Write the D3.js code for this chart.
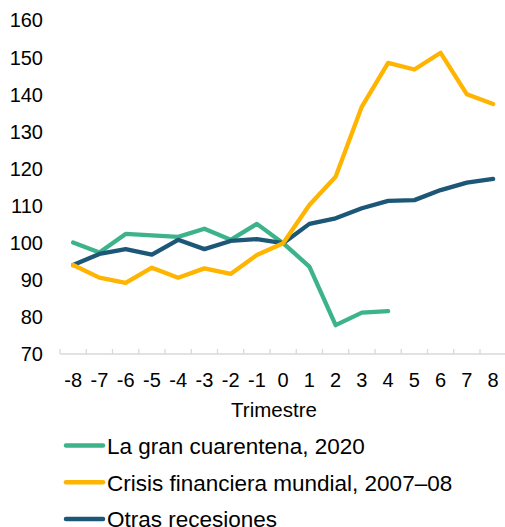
<!DOCTYPE html>
<html>
<head>
<meta charset="utf-8">
<script src="https://cdn.jsdelivr.net/npm/d3@7"></script>
<style>
  html, body { margin: 0; padding: 0; background: #fff; }
  svg { display: block; font-family: "Liberation Sans", Arial, sans-serif; }
</style>
</head>
<body>
<svg id="chart" width="505" height="527"></svg>
<script>
const quarters = ["-8","-7","-6","-5","-4","-3","-2","-1","0","1","2","3","4","5","6","7","8"];
const yTicks = [70, 80, 90, 100, 110, 120, 130, 140, 150, 160];
const seriesNames = ["La gran cuarentena, 2020", "Crisis financiera mundial, 2007\u201308", "Otras recesiones"];
const granCuarentena = [100.2, 97.5, 102.5, 102.1, 101.7, 103.9, 100.9, 105.2, 100, 93.7, 77.9, 81.3, 81.7, null, null, null, null];
const crisisFinanciera = [94.1, 90.7, 89.3, 93.4, 90.7, 93.2, 91.7, 96.8, 100, 110.3, 117.9, 136.8, 148.6, 146.8, 151.3, 140.1, 137.5];
const otrasRecesiones = [94.1, 97.1, 98.4, 96.9, 100.9, 98.4, 100.6, 101.1, 100, 105.2, 106.7, 109.4, 111.4, 111.6, 114.3, 116.3, 117.3];
const axisTitle = "Trimestre";

const colors = ["#3db38c", "#ffb400", "#1d5777"];
const seriesValues = [granCuarentena, crisisFinanciera, otrasRecesiones];

const svg = d3.select("#chart");
const x = d3.scaleBand().domain(quarters).range([60, 506.25]).padding(0);
const y = d3.scaleLinear().domain([70, 160]).range([354.5, 20.5]);

// Y axis labels
const yAxis = svg.append("g").attr("transform", "translate(60,0)")
  .call(d3.axisLeft(y).tickValues(yTicks).tickSize(0).tickPadding(17).tickFormat(d3.format("d")));
yAxis.select(".domain").remove();
yAxis.selectAll("text").attr("font-size", "20px").attr("fill", "#000")
  .attr("font-family", "'Liberation Sans', Arial, sans-serif");

// X axis baseline
const axisY = 354;
svg.append("line").attr("x1", 60).attr("x2", 505).attr("y1", axisY).attr("y2", axisY)
  .attr("stroke", "#d9d9d9").attr("stroke-width", 1.3);
// tick marks at category boundaries
const boundaries = quarters.map(q => x(q)).concat([x.range()[1]]);
svg.append("g").selectAll("line").data(boundaries).join("line")
  .attr("x1", d => d).attr("x2", d => d)
  .attr("y1", axisY).attr("y2", axisY - 5)
  .attr("stroke", "#d9d9d9").attr("stroke-width", 1.3);

const xAxis = svg.append("g").attr("transform", `translate(0,${axisY})`)
  .call(d3.axisBottom(x).tickSize(0).tickPadding(0));
xAxis.select(".domain").remove();
xAxis.selectAll("text").attr("font-size", "20px").attr("fill", "#000")
  .attr("font-family", "'Liberation Sans', Arial, sans-serif")
  .attr("y", 33).attr("dy", 0);

svg.append("text").attr("x", 274).attr("y", 417).attr("text-anchor", "middle")
  .attr("font-size", "20.5px").attr("fill", "#000").text(axisTitle);

// Lines
const line = d3.line()
  .defined(d => d.v !== null)
  .x(d => x(d.q) + x.bandwidth() / 2)
  .y(d => y(d.v));

const order = [0, 2, 1];
order.forEach(i => {
  const data = quarters.map((q, j) => ({ q, v: seriesValues[i][j] }));
  svg.append("path").datum(data)
    .attr("d", line)
    .attr("fill", "none")
    .attr("stroke", colors[i])
    .attr("stroke-width", 4.3)
    .attr("stroke-linejoin", "round")
    .attr("stroke-linecap", "round");
});

// Legend
const legendRows = [445.5, 482.3, 519];
const legend = svg.append("g");
seriesNames.forEach((name, i) => {
  legend.append("line").attr("x1", 66).attr("x2", 103)
    .attr("y1", legendRows[i]).attr("y2", legendRows[i])
    .attr("stroke", colors[i]).attr("stroke-width", 4.5).attr("stroke-linecap", "round");
  legend.append("text").attr("x", 107).attr("y", legendRows[i] + 8.3)
    .attr("font-size", "22.5px").attr("fill", "#000").text(name);
});
</script>
</body>
</html>
